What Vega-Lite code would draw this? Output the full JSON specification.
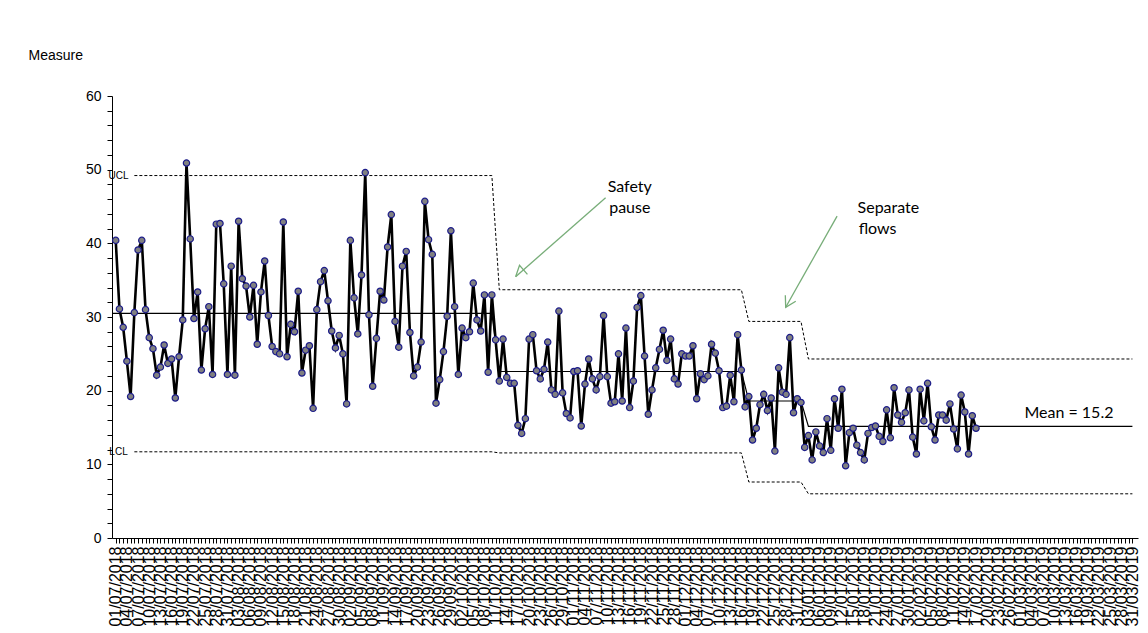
{
  "$schema": "https://vega.github.io/schema/vega-lite/v6.json",
  "width": 1026,
  "height": 442,
  "autosize": {"type": "none"},
  "padding": {"left": 112, "top": 96, "right": 10, "bottom": 95},
  "background": "white",
  "config": {"view": {"stroke": null}, "font": "Liberation Sans"},
  "datasets": {
    "measure": [
      {"day":0,"value":40.4},{"day":1,"value":31.1},{"day":2,"value":28.6},{"day":3,"value":24.0},{"day":4,"value":19.2},
      {"day":5,"value":30.6},{"day":6,"value":39.1},{"day":7,"value":40.4},{"day":8,"value":31.0},{"day":9,"value":27.2},
      {"day":10,"value":25.7},{"day":11,"value":22.1},{"day":12,"value":23.2},{"day":13,"value":26.2},{"day":14,"value":23.7},
      {"day":15,"value":24.3},{"day":16,"value":19.0},{"day":17,"value":24.6},{"day":18,"value":29.6},{"day":19,"value":50.9},
      {"day":20,"value":40.6},{"day":21,"value":29.8},{"day":22,"value":33.4},{"day":23,"value":22.8},{"day":24,"value":28.4},
      {"day":25,"value":31.4},{"day":26,"value":22.2},{"day":27,"value":42.6},{"day":28,"value":42.7},{"day":29,"value":34.5},
      {"day":30,"value":22.2},{"day":31,"value":36.9},{"day":32,"value":22.1},{"day":33,"value":43.0},{"day":34,"value":35.2},
      {"day":35,"value":34.2},{"day":36,"value":30.0},{"day":37,"value":34.3},{"day":38,"value":26.3},{"day":39,"value":33.4},
      {"day":40,"value":37.6},{"day":41,"value":30.2},{"day":42,"value":26.0},{"day":43,"value":25.3},{"day":44,"value":25.0},
      {"day":45,"value":42.9},{"day":46,"value":24.6},{"day":47,"value":29.0},{"day":48,"value":28.0},{"day":49,"value":33.5},
      {"day":50,"value":22.4},{"day":51,"value":25.5},{"day":52,"value":26.1},{"day":53,"value":17.6},{"day":54,"value":31.0},
      {"day":55,"value":34.8},{"day":56,"value":36.3},{"day":57,"value":32.2},{"day":58,"value":28.1},{"day":59,"value":25.8},
      {"day":60,"value":27.5},{"day":61,"value":25.0},{"day":62,"value":18.2},{"day":63,"value":40.4},{"day":64,"value":32.6},
      {"day":65,"value":27.7},{"day":66,"value":35.7},{"day":67,"value":49.6},{"day":68,"value":30.3},{"day":69,"value":20.6},
      {"day":70,"value":27.1},{"day":71,"value":33.5},{"day":72,"value":32.3},{"day":73,"value":39.5},{"day":74,"value":43.9},
      {"day":75,"value":29.4},{"day":76,"value":25.9},{"day":77,"value":36.9},{"day":78,"value":38.9},{"day":79,"value":27.9},
      {"day":80,"value":22.0},{"day":81,"value":23.2},{"day":82,"value":26.6},{"day":83,"value":45.7},{"day":84,"value":40.5},
      {"day":85,"value":38.5},{"day":86,"value":18.3},{"day":87,"value":21.5},{"day":88,"value":25.3},{"day":89,"value":30.1},
      {"day":90,"value":41.7},{"day":91,"value":31.4},{"day":92,"value":22.2},{"day":93,"value":28.5},{"day":94,"value":27.2},
      {"day":95,"value":28.0},{"day":96,"value":34.6},{"day":97,"value":29.6},{"day":98,"value":28.1},{"day":99,"value":33.0},
      {"day":100,"value":22.5},{"day":101,"value":33.0},{"day":102,"value":26.9},{"day":103,"value":21.3},{"day":104,"value":27.0},
      {"day":105,"value":21.8},{"day":106,"value":21.0},{"day":107,"value":21.0},{"day":108,"value":15.3},{"day":109,"value":14.2},
      {"day":110,"value":16.2},{"day":111,"value":27.0},{"day":112,"value":27.6},{"day":113,"value":22.7},{"day":114,"value":21.6},
      {"day":115,"value":22.9},{"day":116,"value":26.6},{"day":117,"value":20.1},{"day":118,"value":19.5},{"day":119,"value":30.8},
      {"day":120,"value":19.7},{"day":121,"value":16.9},{"day":122,"value":16.3},{"day":123,"value":22.6},{"day":124,"value":22.7},
      {"day":125,"value":15.2},{"day":126,"value":20.9},{"day":127,"value":24.3},{"day":128,"value":21.6},{"day":129,"value":20.1},
      {"day":130,"value":21.9},{"day":131,"value":30.2},{"day":132,"value":21.9},{"day":133,"value":18.3},{"day":134,"value":18.5},
      {"day":135,"value":25.0},{"day":136,"value":18.6},{"day":137,"value":28.5},{"day":138,"value":17.7},{"day":139,"value":21.3},
      {"day":140,"value":31.3},{"day":141,"value":32.9},{"day":142,"value":24.7},{"day":143,"value":16.8},{"day":144,"value":20.1},
      {"day":145,"value":23.1},{"day":146,"value":25.6},{"day":147,"value":28.2},{"day":148,"value":24.1},{"day":149,"value":27.0},
      {"day":150,"value":21.6},{"day":151,"value":20.9},{"day":152,"value":25.0},{"day":153,"value":24.7},{"day":154,"value":24.7},
      {"day":155,"value":26.1},{"day":156,"value":18.9},{"day":157,"value":22.3},{"day":158,"value":21.5},{"day":159,"value":22.0},
      {"day":160,"value":26.3},{"day":161,"value":25.1},{"day":162,"value":22.7},{"day":163,"value":17.7},{"day":164,"value":17.9},
      {"day":165,"value":22.1},{"day":166,"value":18.5},{"day":167,"value":27.6},{"day":168,"value":22.8},{"day":169,"value":17.8},
      {"day":170,"value":19.2},{"day":171,"value":13.3},{"day":172,"value":14.9},{"day":173,"value":18.1},{"day":174,"value":19.5},
      {"day":175,"value":17.3},{"day":176,"value":19.0},{"day":177,"value":11.8},{"day":178,"value":23.1},{"day":179,"value":19.8},
      {"day":180,"value":19.5},{"day":181,"value":27.2},{"day":182,"value":17.0},{"day":183,"value":18.9},{"day":184,"value":18.4},
      {"day":185,"value":12.3},{"day":186,"value":13.9},{"day":187,"value":10.6},{"day":188,"value":14.4},{"day":189,"value":12.5},
      {"day":190,"value":11.6},{"day":191,"value":16.2},{"day":192,"value":11.9},{"day":193,"value":18.9},{"day":194,"value":14.9},
      {"day":195,"value":20.2},{"day":196,"value":9.8},{"day":197,"value":14.3},{"day":198,"value":14.9},{"day":199,"value":12.6},
      {"day":200,"value":11.6},{"day":201,"value":10.6},{"day":202,"value":14.2},{"day":203,"value":15.0},{"day":204,"value":15.2},
      {"day":205,"value":13.8},{"day":206,"value":13.1},{"day":207,"value":17.4},{"day":208,"value":13.6},{"day":209,"value":20.4},
      {"day":210,"value":16.7},{"day":211,"value":15.7},{"day":212,"value":17.0},{"day":213,"value":20.1},{"day":214,"value":13.7},
      {"day":215,"value":11.4},{"day":216,"value":20.2},{"day":217,"value":15.9},{"day":218,"value":21.0},{"day":219,"value":15.1},
      {"day":220,"value":13.3},{"day":221,"value":16.7},{"day":222,"value":16.7},{"day":223,"value":16.0},{"day":224,"value":18.2},
      {"day":225,"value":14.8},{"day":226,"value":12.1},{"day":227,"value":19.4},{"day":228,"value":17.1},{"day":229,"value":11.4},
      {"day":230,"value":16.6},{"day":231,"value":14.9}
    ],
    "limits": [
      {"day":5,"value":49.2,"series":"UCL"},{"day":101,"value":49.2,"series":"UCL"},{"day":103,"value":33.7,"series":"UCL"},{"day":168,"value":33.7,"series":"UCL"},
      {"day":170,"value":29.4,"series":"UCL"},{"day":184,"value":29.4,"series":"UCL"},{"day":186,"value":24.3,"series":"UCL"},{"day":273,"value":24.3,"series":"UCL"},
      {"day":5,"value":11.7,"series":"LCL"},{"day":101,"value":11.7,"series":"LCL"},{"day":103,"value":11.55,"series":"LCL"},{"day":168,"value":11.55,"series":"LCL"},
      {"day":170,"value":7.6,"series":"LCL"},{"day":184,"value":7.6,"series":"LCL"},{"day":186,"value":6.0,"series":"LCL"},{"day":273,"value":6.0,"series":"LCL"}
    ],
    "mean": [
      {"day":-1,"value":30.5},{"day":101,"value":30.5},{"day":103,"value":22.6},{"day":168,"value":22.6},
      {"day":170,"value":18.6},{"day":184,"value":18.6},{"day":186,"value":15.15},{"day":273,"value":15.15}
    ],
    "arrows": [
      {"arrow":"a1","part":"shaft","day":131.54,"value":46.19},{"arrow":"a1","part":"shaft","day":107.38,"value":35.47},
      {"arrow":"a1","part":"head","day":110.55,"value":35.78},{"arrow":"a1","part":"head","day":107.38,"value":35.47},{"arrow":"a1","part":"head","day":108.43,"value":37.02},
      {"arrow":"a2","part":"shaft","day":193.7,"value":43.7},{"arrow":"a2","part":"shaft","day":179.9,"value":31.32},
      {"arrow":"a2","part":"head","day":182.6,"value":32.14},{"arrow":"a2","part":"head","day":179.9,"value":31.32},{"arrow":"a2","part":"head","day":179.8,"value":32.94}
    ],
    "notes": [
      {"day":132.1,"value":46.96,"text":"Safety"},
      {"day":132.5,"value":44.1,"text":"pause"},
      {"day":199.2,"value":44.1,"text":"Separate"},
      {"day":199.5,"value":41.26,"text":"flows"},
      {"day":244.0,"value":16.3,"text":"Mean = 15.2"}
    ],
    "limitLabels": [
      {"day":0.75,"value":49.2,"text":"UCL"},
      {"day":0.75,"value":11.7,"text":"LCL"}
    ]
  },
  "encoding": {
    "x": {
      "field": "day", "type": "quantitative",
      "scale": {"domain": [-1, 274.5], "nice": false, "zero": false},
      "axis": {
        "title": null,
        "grid": false,
        "values": [0,1,2,3,4,5,6,7,8,9,10,11,12,13,14,15,16,17,18,19,20,21,22,23,24,25,26,27,28,29,30,31,32,33,34,35,36,37,38,39,40,41,42,43,44,45,46,47,48,49,50,51,52,53,54,55,56,57,58,59,60,61,62,63,64,65,66,67,68,69,70,71,72,73,74,75,76,77,78,79,80,81,82,83,84,85,86,87,88,89,90,91,92,93,94,95,96,97,98,99,100,101,102,103,104,105,106,107,108,109,110,111,112,113,114,115,116,117,118,119,120,121,122,123,124,125,126,127,128,129,130,131,132,133,134,135,136,137,138,139,140,141,142,143,144,145,146,147,148,149,150,151,152,153,154,155,156,157,158,159,160,161,162,163,164,165,166,167,168,169,170,171,172,173,174,175,176,177,178,179,180,181,182,183,184,185,186,187,188,189,190,191,192,193,194,195,196,197,198,199,200,201,202,203,204,205,206,207,208,209,210,211,212,213,214,215,216,217,218,219,220,221,222,223,224,225,226,227,228,229,230,231,232,233,234,235,236,237,238,239,240,241,242,243,244,245,246,247,248,249,250,251,252,253,254,255,256,257,258,259,260,261,262,263,264,265,266,267,268,269,270,271,272,273],
        "labelExpr": "datum.value % 3 == 0 ? timeFormat(datetime(2018, 6, 1 + datum.value), '%d/%m/%Y') : ''",
        "labelAngle": 270,
        "labelAlign": "right",
        "labelBaseline": "middle",
        "labelFontSize": 16,
        "labelColor": "black",
        "labelPadding": 3,
        "labelOverlap": false,
        "labelBound": false,
        "labelFlush": false,
        "tickSize": 5,
        "tickColor": "black",
        "domainColor": "black",
        "domainWidth": 1,
        "tickWidth": 1
      }
    },
    "y": {
      "field": "value", "type": "quantitative",
      "scale": {"domain": [0, 60], "nice": false},
      "axis": {
        "title": "Measure",
        "titleAngle": 0,
        "titleAlign": "left",
        "titleBaseline": "alphabetic",
        "titleX": -84,
        "titleY": -37,
        "titleFontSize": 14,
        "titleFontWeight": "normal",
        "titleColor": "black",
        "grid": false,
        "values": [0,2,4,6,8,10,12,14,16,18,20,22,24,26,28,30,32,34,36,38,40,42,44,46,48,50,52,54,56,58,60],
        "labelExpr": "datum.value % 10 == 0 ? datum.label : ''",
        "labelFontSize": 14,
        "labelColor": "black",
        "labelPadding": 6,
        "labelOverlap": false,
        "labelBound": false,
        "labelFlush": false,
        "tickSize": 5,
        "tickColor": "black",
        "domainColor": "black",
        "tickWidth": 1,
        "domainWidth": 1
      }
    }
  },
  "layer": [
    {
      "data": {"name": "limits"},
      "mark": {"type": "line", "color": "black", "strokeWidth": 1, "strokeDash": [3, 2]},
      "encoding": {"detail": {"field": "series"}}
    },
    {
      "data": {"name": "mean"},
      "mark": {"type": "line", "color": "black", "strokeWidth": 1.2},
      "encoding": {}
    },
    {
      "data": {"name": "measure"},
      "mark": {"type": "line", "color": "black", "strokeWidth": 2.6},
      "encoding": {}
    },
    {
      "data": {"name": "measure"},
      "mark": {"type": "point", "filled": true, "fill": "#808080", "stroke": "#1c1c8a", "strokeWidth": 1.2, "size": 40, "opacity": 1},
      "encoding": {}
    },
    {
      "data": {"name": "arrows"},
      "mark": {"type": "line", "color": "#77ad78", "strokeWidth": 1.3},
      "encoding": {"detail": [{"field": "arrow"}, {"field": "part"}]}
    },
    {
      "data": {"name": "notes"},
      "mark": {"type": "text", "align": "left", "baseline": "alphabetic", "font": "Lato", "fontSize": 16, "color": "black"},
      "encoding": {"text": {"field": "text"}}
    },
    {
      "data": {"name": "limitLabels"},
      "mark": {"type": "text", "align": "center", "baseline": "middle", "font": "Liberation Sans", "fontSize": 10, "color": "black"},
      "encoding": {"text": {"field": "text"}}
    }
  ]
}
